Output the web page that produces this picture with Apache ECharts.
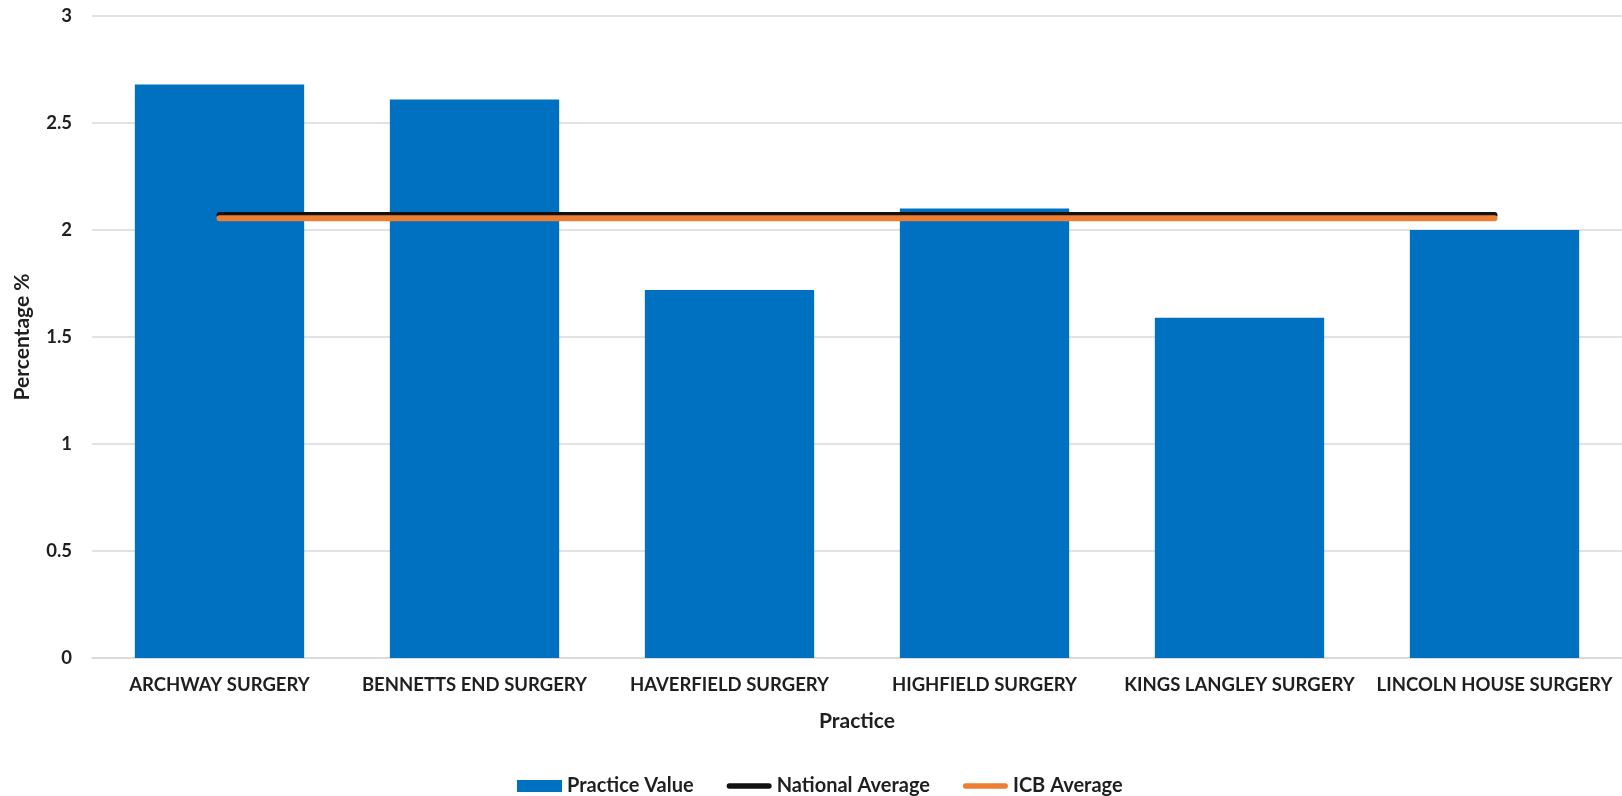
<!DOCTYPE html>
<html><head><meta charset="utf-8">
<script src="https://cdn.jsdelivr.net/npm/echarts@6/dist/echarts.min.js"></script>
<style>html,body{margin:0;padding:0;background:#fff}#c{width:1622px;height:796px}</style>
</head><body><div id="c"></div>
<script>
const categories = ['ARCHWAY SURGERY','BENNETTS END SURGERY','HAVERFIELD SURGERY','HIGHFIELD SURGERY','KINGS LANGLEY SURGERY','LINCOLN HOUSE SURGERY'];
const practiceValue = [2.68, 2.61, 1.72, 2.10, 1.59, 2.00];
const nationalAverage = [2.07, 2.07, 2.07, 2.07, 2.07, 2.07];
const icbAverage = [2.055, 2.055, 2.055, 2.055, 2.055, 2.055];
const yTicks = {min: 0, max: 3, interval: 0.5};

const FONT = 'Lato';
const TXT = '#1f1f1f';
const LINE_ICON = 'path://M3,0 L48,0 A3,3 0 0 1 48,6 L3,6 A3,3 0 0 1 3,0 Z';
const chart = echarts.init(document.getElementById('c'));
chart.setOption({
  animation: false,
  textStyle: {fontFamily: FONT},
  grid: {left: 92, right: -6, top: 16, bottom: 138, containLabel: false},
  legend: {
    top: 771, left: 512, itemGap: 33, itemWidth: 45, itemHeight: 12,
    textStyle: {fontFamily: FONT, fontWeight: 'bold', fontSize: 20, color: TXT},
    data: [
      {name: 'Practice Value', icon: 'rect'},
      {name: 'National Average', icon: LINE_ICON},
      {name: 'ICB Average', icon: LINE_ICON}
    ]
  },
  xAxis: {
    type: 'category', data: categories,
    name: 'Practice', nameLocation: 'middle', nameGap: 53,
    nameTextStyle: {fontFamily: FONT, fontWeight: 'bold', fontSize: 21, color: TXT},
    axisLine: {lineStyle: {color: '#d9d9d9', width: 1.5}},
    axisTick: {show: false},
    axisLabel: {fontFamily: FONT, fontWeight: 'bold', fontSize: 18.5, color: TXT, margin: 18, interval: 0}
  },
  yAxis: {
    type: 'value', min: yTicks.min, max: yTicks.max, interval: yTicks.interval,
    name: 'Percentage %', nameLocation: 'middle', nameGap: 59, nameRotate: 90,
    nameTextStyle: {fontFamily: FONT, fontWeight: 'bold', fontSize: 21, color: TXT},
    axisLine: {show: false}, axisTick: {show: false},
    axisLabel: {fontFamily: FONT, fontWeight: 'bold', fontSize: 18.5, color: TXT, margin: 20},
    splitLine: {lineStyle: {color: '#d9d9d9', width: 1.5}}
  },
  series: [
    {name: 'Practice Value', type: 'bar', data: practiceValue, barCategoryGap: '33.6%',
     itemStyle: {color: '#0070C0'}},
    {name: 'National Average', type: 'line', data: nationalAverage, symbol: 'none',
     lineStyle: {color: '#111', width: 6, cap: 'round'}, itemStyle: {color: '#111'}},
    {name: 'ICB Average', type: 'line', data: icbAverage, symbol: 'none',
     lineStyle: {color: '#ED7D31', width: 6, cap: 'round'}, itemStyle: {color: '#ED7D31'}}
  ]
});
</script></body></html>
